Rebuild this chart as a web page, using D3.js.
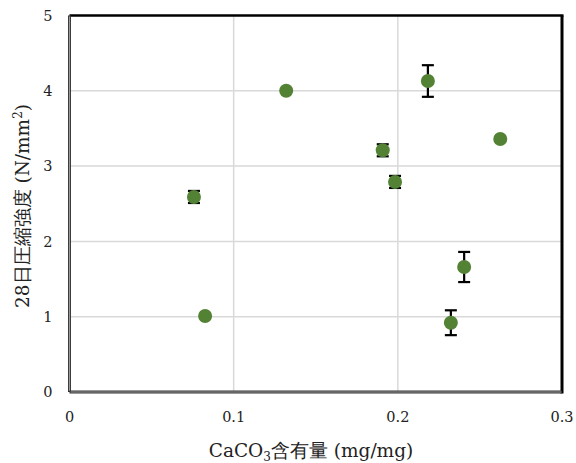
<!DOCTYPE html>
<html>
<head>
<meta charset="utf-8">
<script src="https://cdn.jsdelivr.net/npm/d3@7"></script>
<style>
  html, body { margin: 0; padding: 0; background: #fff; }
  svg { display: block; }
</style>
</head>
<body>
<svg id="chart" width="576" height="463"></svg>
<script>
// CaCO3 content vs 28-day compressive strength
const caco3    = [0.0758, 0.0826, 0.132, 0.1908, 0.1983, 0.2183, 0.2624, 0.2404, 0.2323];
const strength = [2.59,   1.01,   4.00,  3.21,   2.79,   4.13,   3.36,   1.66,   0.92];
const errLen   = [0.08,   0,      0,     0.08,   0.08,   0.21,   0,      0.20,   0.165];

const xTicks = [0, 0.1, 0.2, 0.3];
const yTicks = [0, 1, 2, 3, 4, 5];

const svg = d3.select("#chart");
const plotL = 69.5, plotR = 562, plotT = 15.5, plotB = 392;

const x = d3.scaleLinear().domain([0, 0.3]).range([plotL, plotR]);
const y = d3.scaleLinear().domain([0, 5]).range([plotB, plotT]);

const serif = '"DejaVu Serif", "Liberation Serif", serif';

// gridlines
svg.append("g").selectAll("line").data(xTicks.slice(1, -1)).join("line")
  .attr("x1", d => x(d)).attr("x2", d => x(d))
  .attr("y1", plotT).attr("y2", plotB)
  .attr("stroke", "#d9d9d9").attr("stroke-width", 1.5);
svg.append("g").selectAll("line").data(yTicks.slice(1, -1)).join("line")
  .attr("x1", plotL).attr("x2", plotR)
  .attr("y1", d => y(d)).attr("y2", d => y(d))
  .attr("stroke", "#d9d9d9").attr("stroke-width", 1.5);

// frame: dark top/right, grey double-edged left/bottom
svg.append("line").attr("x1", plotL).attr("x2", plotR + 1.5).attr("y1", plotT).attr("y2", plotT)
  .attr("stroke", "#000").attr("stroke-width", 2.5);
svg.append("line").attr("x1", plotR).attr("x2", plotR).attr("y1", plotT).attr("y2", plotB + 1.5)
  .attr("stroke", "#000").attr("stroke-width", 3);
svg.append("line").attr("x1", plotL).attr("x2", plotL).attr("y1", plotT).attr("y2", plotB)
  .attr("stroke", "#333").attr("stroke-width", 3);
svg.append("line").attr("x1", plotL).attr("x2", plotL).attr("y1", plotT + 1).attr("y2", plotB - 1)
  .attr("stroke", "#999").attr("stroke-width", 1.2);
svg.append("line").attr("x1", plotL).attr("x2", plotR).attr("y1", plotB).attr("y2", plotB)
  .attr("stroke", "#333").attr("stroke-width", 3);
svg.append("line").attr("x1", plotL + 1).attr("x2", plotR - 1).attr("y1", plotB).attr("y2", plotB)
  .attr("stroke", "#999").attr("stroke-width", 1.2);

// tick labels
svg.append("g").selectAll("text").data(xTicks).join("text")
  .style("font-family", serif).attr("fill", "#222")
  .attr("x", d => x(d)).attr("y", 421.5)
  .attr("text-anchor", "middle").attr("font-size", 14.5)
  .text(d => d === 0 ? "0" : d3.format(".1f")(d));
svg.append("g").selectAll("text").data(yTicks).join("text")
  .style("font-family", serif).attr("fill", "#222")
  .attr("x", 52.5).attr("y", d => y(d) + 5.3)
  .attr("text-anchor", "end").attr("font-size", 14.5)
  .text(d => d);

// axis titles
const xt = svg.append("text").style("font-family", serif).attr("fill", "#222")
  .attr("x", 311).attr("y", 457)
  .attr("text-anchor", "middle").attr("font-size", 18.5);
xt.append("tspan").text("CaCO");
xt.append("tspan").attr("font-size", 12).attr("dy", 4).text("3");
xt.append("tspan").attr("dy", -4).text("含有量 (mg/mg)");

const yt = svg.append("text").style("font-family", serif).attr("fill", "#222")
  .attr("transform", "translate(29,206) rotate(-90)")
  .attr("text-anchor", "middle").attr("font-size", 18.5);
yt.append("tspan").text("28日圧縮強度 (N/mm");
yt.append("tspan").attr("font-size", 12).attr("dy", -7).text("2");
yt.append("tspan").attr("dy", 7).text(")");

// error bars
const pts = caco3.map((c, i) => ({ c, s: strength[i], e: errLen[i] }));
const eb = svg.append("g").selectAll("g").data(pts.filter(p => p.e > 0)).join("g")
  .attr("stroke", "#000").attr("stroke-width", 2.2);
eb.append("line")
  .attr("x1", d => x(d.c)).attr("x2", d => x(d.c))
  .attr("y1", d => y(d.s + d.e)).attr("y2", d => y(d.s - d.e));
eb.append("line")
  .attr("x1", d => x(d.c) - 6).attr("x2", d => x(d.c) + 6)
  .attr("y1", d => y(d.s + d.e)).attr("y2", d => y(d.s + d.e));
eb.append("line")
  .attr("x1", d => x(d.c) - 6).attr("x2", d => x(d.c) + 6)
  .attr("y1", d => y(d.s - d.e)).attr("y2", d => y(d.s - d.e));

// markers
svg.append("g").selectAll("circle").data(pts).join("circle")
  .attr("cx", d => x(d.c)).attr("cy", d => y(d.s)).attr("r", 7)
  .attr("fill", "#548235");
</script>
</body>
</html>
